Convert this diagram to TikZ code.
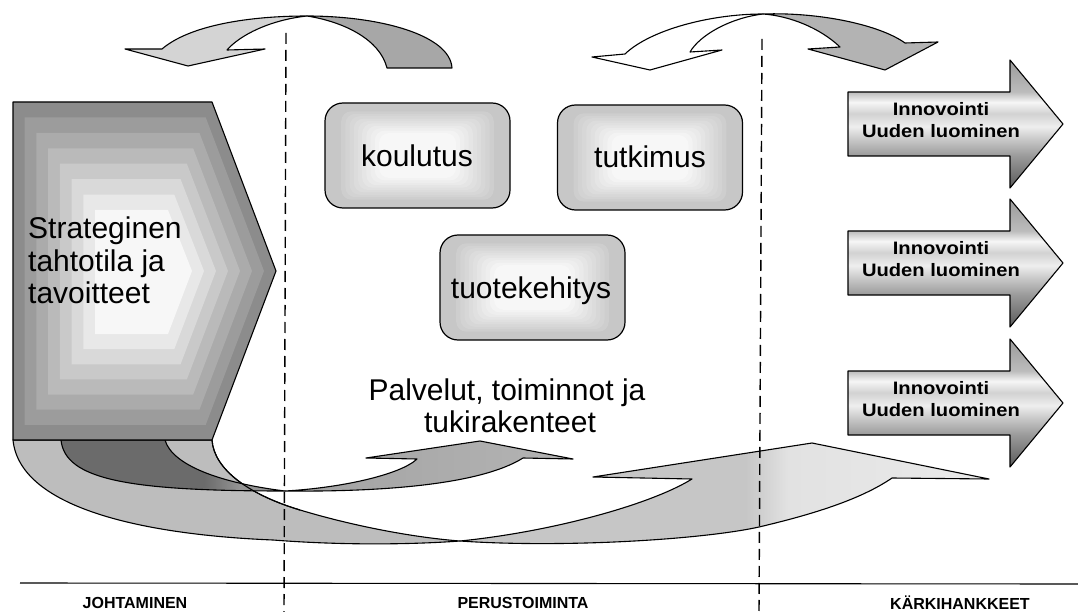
\documentclass[tikz,border=0pt]{standalone}
\usepackage{fontspec}
\setmainfont{Liberation Sans}
\newfontfamily\widesans{Liberation Sans}[FakeStretch=1.12]
\usetikzlibrary{calc}

% greys
\definecolor{tlface}{HTML}{D4D4D4}
\definecolor{tlback}{HTML}{A7A7A7}
\definecolor{trback}{HTML}{B3B3B3}
\definecolor{bigleft}{HTML}{BDBDBD}
\definecolor{smallA}{HTML}{A2A2A2}
\definecolor{smallB}{HTML}{B4B4B4}
\definecolor{dk1}{HTML}{6B6B6B}
\definecolor{dk2}{HTML}{959595}
\definecolor{bf1}{HTML}{C6C6C6}
\definecolor{bf2}{HTML}{E2E2E2}
\definecolor{bf3}{HTML}{EAEAEA}
\definecolor{st0}{HTML}{9A9A9A}
\definecolor{st1}{HTML}{BCBCBC}
\definecolor{st2}{HTML}{F6F6F6}
\definecolor{st3}{HTML}{D2D2D2}
\definecolor{st4}{HTML}{EEEEEE}
\definecolor{st5}{HTML}{BDBDBD}
\definecolor{st6}{HTML}{9A9A9A}
\definecolor{st7}{HTML}{5A5A5A}

% metallic stripes of the block arrows (top to bottom)
\pgfdeclareverticalshading{steel}{100bp}{color(0bp)=(st7); color(25bp)=(st7);
  color(37.5bp)=(st6); color(42.5bp)=(st5); color(49bp)=(st4); color(54bp)=(st3);
  color(58.5bp)=(st2); color(62.5bp)=(st1); color(75bp)=(st0); color(100bp)=(st0)}
% underside of the small swoosh
\pgfdeclarehorizontalshading{darkband}{100bp}{color(0bp)=(dk1); color(25bp)=(dk1);
  color(57bp)=(dk1); color(65bp)=(dk2); color(75bp)=(dk2); color(100bp)=(dk2)}
% front face of the long swoosh
\pgfdeclarehorizontalshading{bigface}{100bp}{color(0bp)=(bf1); color(25bp)=(bf1);
  color(52bp)=(bf1); color(56bp)=(bf2); color(75bp)=(bf3); color(100bp)=(bf3)}

\begin{document}
\begin{tikzpicture}[x=1pt, y=-1pt,
  outline/.style={draw=black, line width=1.1pt, line join=round},
  sepline/.style={draw=black, line width=1.4pt, dash pattern=on 11pt off 6pt},
  bigtext/.style={font=\fontsize{30}{33}\selectfont, inner sep=0pt},
  arrowtext/.style={font=\widesans\bfseries\fontsize{18}{22}\selectfont, align=center, inner sep=0pt},
  lbl/.style={font=\bfseries\fontsize{16}{18}\selectfont, inner sep=0pt, anchor=base},
  glowbox/.style={draw=black, line width=1.2pt, rounded corners=18pt, fill=black!22,
    minimum width=185pt, minimum height=105pt, inner sep=0pt,
    path picture={
      \foreach \k in {1,...,10}{
        \pgfmathsetmacro\g{21-1.8*\k}
        \fill[black!\g, rounded corners=10pt]
          ($(path picture bounding box.south west)+(12+4.2*\k,-6-2.4*\k)$) rectangle
          ($(path picture bounding box.north east)+(-12-4.2*\k,6+2.4*\k)$);
      }
    }},
]
\useasboundingbox[fill=white] (0,0) rectangle (1078,612);

% ---------- curved arrows along the top ----------
\draw[outline, fill=tlface] (162,49) .. controls (190,25) and (250,16) .. (307,16)
  .. controls (270,20) and (240,35) .. (227,50) -- (265,49) -- (188,66) -- (125,49) -- cycle;
\draw[outline, fill=tlback] (307,16) .. controls (380,16) and (450,35) .. (452,68)
  -- (387,68) .. controls (380,40) and (345,22) .. (307,16) -- cycle;

\draw[outline, fill=white] (625,54) .. controls (650,30) and (710,14) .. (763,14)
  .. controls (730,18) and (700,35) .. (690,52) -- (722,50) -- (650,70) -- (592,57) -- cycle;
\draw[outline, fill=trback] (763,14) .. controls (820,12) and (880,25) .. (905,43)
  -- (938,42) -- (885,70) -- (808,49) -- (840,47)
  .. controls (820,28) and (790,16) .. (763,14) -- cycle;

% ---------- swooshes leaving the strategy block ----------
% long swoosh, face turned to the viewer under the block
\draw[outline, fill=bigleft] (13,440) -- (212,440)
  .. controls (214,470) and (250,495) .. (300,510)
  .. controls (360,528) and (420,538) .. (460,541)
  .. controls (420,544) and (350,546) .. (273,540)
  .. controls (150,535) and (20,510) .. (13,440) -- cycle;
% short swoosh, underside
\draw[outline, shading=darkband] (61,440) -- (165,440)
  .. controls (172,465) and (220,483) .. (285,491)
  .. controls (130,491) and (65,480) .. (61,440) -- cycle;
\draw[outline] (212,440) .. controls (214,470) and (250,495) .. (300,510);
% short swoosh, upper face with its head
\draw[outline, left color=smallA, right color=smallB] (285,491)
  .. controls (340,488) and (400,475) .. (417,459) -- (366,458) -- (480,441)
  -- (573,459) -- (523,458) .. controls (480,485) and (380,492) .. (285,491) -- cycle;
% long swoosh, other face with its head
\draw[outline, shading=bigface] (460,541) .. controls (550,532) and (650,505) .. (692,479)
  -- (593,477) -- (812,443) -- (989,479) -- (892,478)
  .. controls (860,500) and (810,515) .. (759,527)
  .. controls (700,540) and (560,548) .. (460,541) -- cycle;

% ---------- strategy block ----------
\coordinate (P1) at (13,102);  \coordinate (Q1) at (95,210);
\coordinate (P2) at (212,102); \coordinate (Q2) at (168,210);
\coordinate (P3) at (276,271); \coordinate (Q3) at (192,271);
\coordinate (P4) at (212,440); \coordinate (Q4) at (168,334);
\coordinate (P5) at (13,440);  \coordinate (Q5) at (95,334);
\foreach \i in {0,...,7}{
  \pgfmathsetmacro\t{\i/7}
  \pgfmathtruncatemacro\g{45-6*\i}
  \fill[black!\g] ($(P1)!\t!(Q1)$) -- ($(P2)!\t!(Q2)$) -- ($(P3)!\t!(Q3)$)
    -- ($(P4)!\t!(Q4)$) -- ($(P5)!\t!(Q5)$) -- cycle;
}
\draw[outline] (P1) -- (P2) -- (P3) -- (P4) -- (P5) -- cycle;
\node[bigtext, anchor=base west] (str1) at (28,239) {Strateginen};
\node[bigtext, anchor=base west] (str2) at (28,271) {tahtotila ja};
\node[bigtext, anchor=base west] (str3) at (28,303) {tavoitteet};

% ---------- core activities ----------
\node[glowbox] (kbox) at (417.5,155.5) {};
\node[glowbox] (tbox) at (650,157.5) {};
\node[glowbox] (pbox) at (532.5,287.5) {};
\node[bigtext, anchor=base] (ktxt) at (417,167) {koulutus};
\node[bigtext, anchor=base] (ttxt) at (650,168) {tutkimus};
\node[bigtext, anchor=base] (ptxt) at (531,298) {tuotekehitys};
\node[bigtext, anchor=base] (serv1) at (507,400) {Palvelut, toiminnot ja};
\node[bigtext, anchor=base] (serv2) at (510,432) {tukirakenteet};

% ---------- spearhead arrows ----------
\foreach \n/\yc in {1/124, 2/263, 3/403}{
  \draw[outline, shading=steel] (848,\yc-32) -- (1010,\yc-32) -- (1010,\yc-64)
    -- (1063,\yc) -- (1010,\yc+64) -- (1010,\yc+32) -- (848,\yc+32) -- cycle;
  \node[arrowtext] (innov\n) at (941,\yc-4) {Innovointi\\Uuden luominen};
}

% ---------- column dividers and headings ----------
\draw[sepline] (286,33) -- (284,612);
\draw[sepline] (762,39) -- (759,612);
\draw[black, line width=1.1pt] (20,583) -- (1078,584);
\node[lbl] (lead) at (135,608) {JOHTAMINEN};
\node[lbl] (core) at (523,608) {PERUSTOIMINTA};
\node[lbl] (spear) at (960,609) {KÄRKIHANKKEET};
\end{tikzpicture}
\end{document}
